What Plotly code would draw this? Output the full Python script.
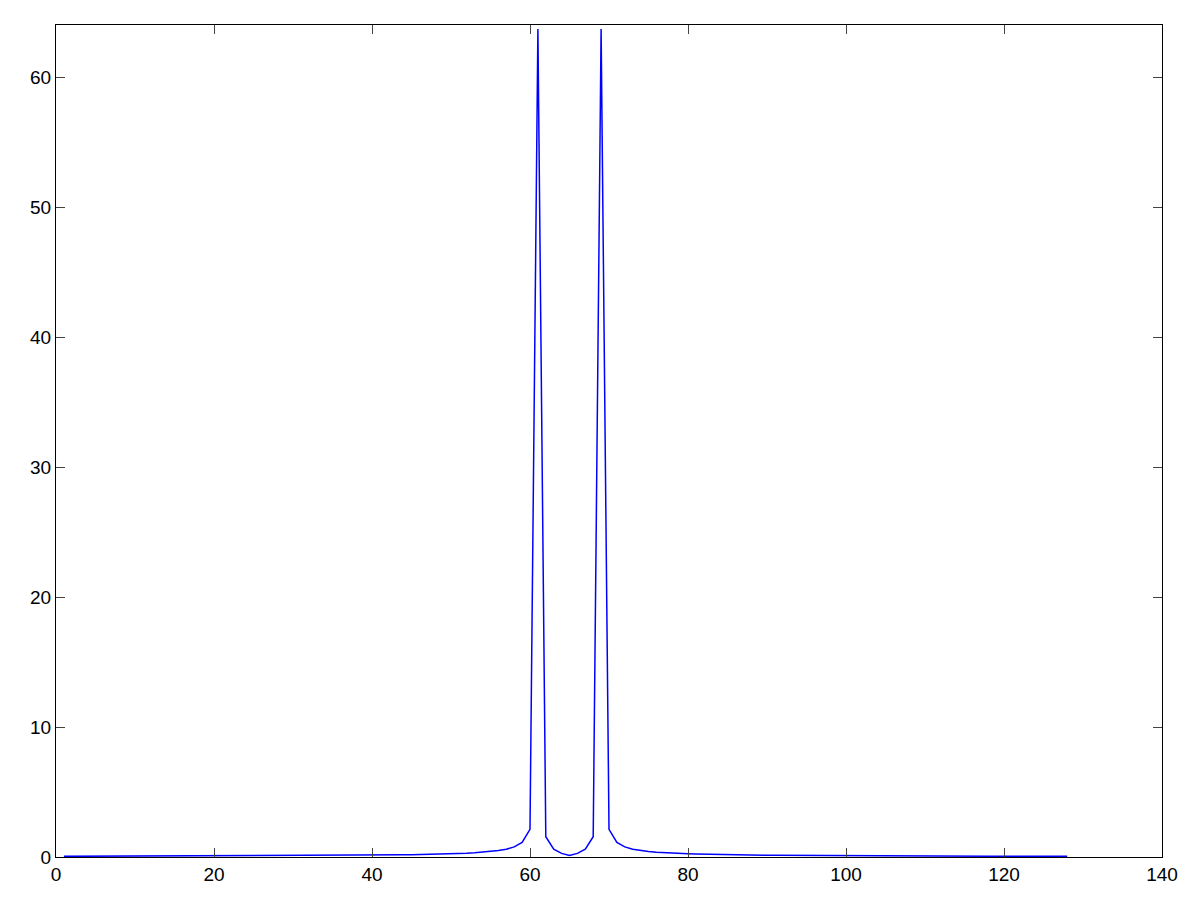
import plotly.graph_objects as go

# bin index 1..128
x_vals = list(range(1, 129))

left_tail = [
    0.051, 0.052, 0.053, 0.054, 0.055, 0.055, 0.056, 0.057, 0.058, 0.060,
    0.061, 0.062, 0.063, 0.064, 0.066, 0.067, 0.069, 0.070, 0.072, 0.073,
    0.075, 0.077, 0.079, 0.081, 0.083, 0.085, 0.087, 0.090, 0.093, 0.095,
    0.098, 0.101, 0.105, 0.108, 0.112, 0.116, 0.121, 0.126, 0.131, 0.137,
    0.143, 0.150, 0.157, 0.166, 0.175, 0.186, 0.197, 0.211, 0.227, 0.245,
    0.267, 0.293, 0.325, 0.366, 0.419, 0.492, 0.600, 0.776, 1.120, 2.133,
]
middle = [63.7, 1.56, 0.60, 0.28, 0.12, 0.28, 0.60, 1.56, 63.7]
right_tail = [
    2.133, 1.120, 0.776, 0.600, 0.492, 0.419, 0.366, 0.325, 0.293, 0.267,
    0.245, 0.227, 0.211, 0.197, 0.186, 0.175, 0.166, 0.157, 0.150, 0.143,
    0.137, 0.131, 0.126, 0.121, 0.116, 0.112, 0.108, 0.105, 0.101, 0.098,
    0.095, 0.093, 0.090, 0.087, 0.085, 0.083, 0.081, 0.079, 0.077, 0.075,
    0.073, 0.072, 0.070, 0.069, 0.067, 0.066, 0.064, 0.063, 0.062, 0.061,
    0.060, 0.058, 0.057, 0.056, 0.055, 0.055, 0.054, 0.053, 0.052,
]
y_vals = left_tail + middle + right_tail

fig = go.Figure(go.Scatter(
    x=x_vals,
    y=y_vals,
    mode='lines',
    line=dict(color='#0000ff', width=1.5),
    showlegend=False,
))

axis_style = dict(
    showgrid=False,
    zeroline=False,
    showline=True,
    linecolor='black',
    linewidth=1,
    mirror='allticks',
    ticks='inside',
    ticklen=9,
    tickwidth=1,
    tickcolor='#444444',
    tickfont=dict(family='Liberation Sans, Arial, sans-serif', size=19, color='black'),
)

# page has an 8px body margin, so the plot box is pulled back by that much
fig.update_layout(
    width=1200,
    height=900,
    margin=dict(l=48, r=46, t=17, b=51),
    plot_bgcolor='white',
    paper_bgcolor='white',
    xaxis=dict(range=[0, 140], tick0=0, dtick=20, **axis_style),
    yaxis=dict(range=[0, 64], tick0=0, dtick=10, **axis_style),
)

fig.write_html("out.html")
